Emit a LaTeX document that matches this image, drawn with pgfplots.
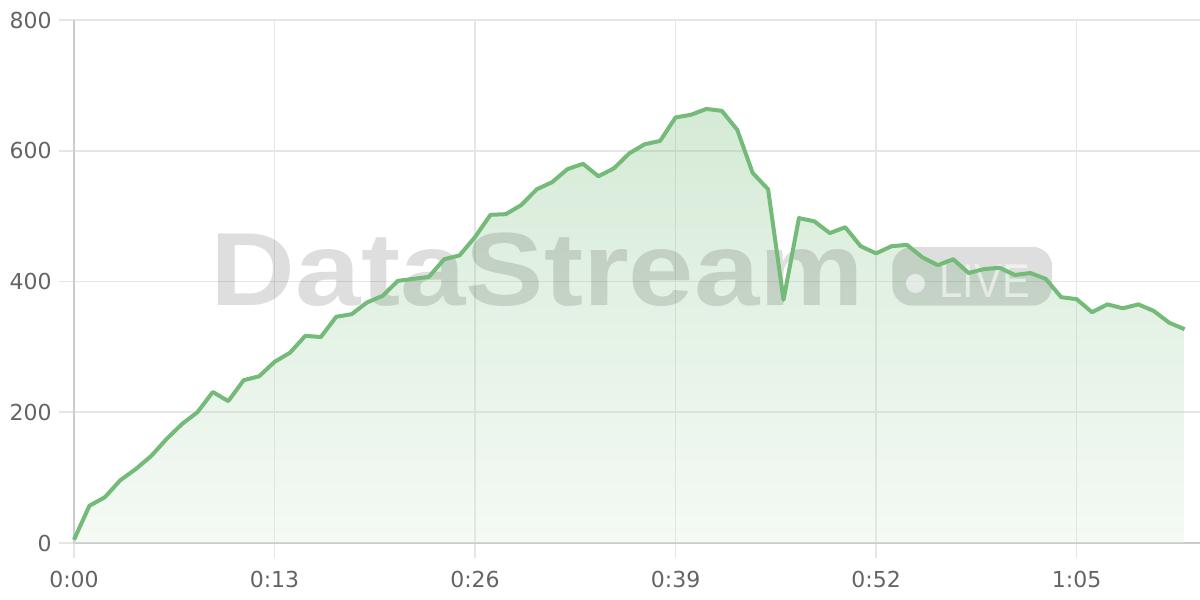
\documentclass[border=0pt]{standalone}
\usepackage{pgfplots}
\pgfplotsset{compat=1.18}
\usepackage{pgfplotstable}
\usepackage{fontspec}
\setmainfont{Liberation Sans}
\newfontfamily\tickfont{DejaVu Sans}
\definecolor{linegreen}{RGB}{116,186,120}
\definecolor{gridgray}{RGB}{230,230,230}
\definecolor{axisgray}{RGB}{204,204,204}
\definecolor{labelgray}{RGB}{100,100,100}
\pgfplotstableread{
t v
0 5
1 57
2 70
3 96
4 113
5 133
6 159
7 182
8 200
9 231
10 217
11 249
12 255
13 277
14 291
15 317
16 315
17 346
18 350
19 368
20 378
21 401
22 404
23 407
24 434
25 440
26 468
27 502
28 503
29 517
30 541
31 552
32 572
33 580
34 561
35 573
36 596
37 610
38 615
39 651
40 655
41 664
42 661
43 632
44 566
45 541
46 372
47 497
48 492
49 474
50 483
51 454
52 443
53 454
54 456
55 437
56 425
57 434
58 413
59 419
60 421
61 410
62 413
63 404
64 376
65 373
66 353
67 365
68 359
69 365
70 355
71 337
72 327
}\datatable
\begin{document}
\begin{tikzpicture}[x=1pt,y=1pt]
\path[use as bounding box] (0,0) rectangle (600,300);
\begin{axis}[
  at={(37pt,28.5pt)}, anchor=south west,
  scale only axis, width=563pt, height=261.5pt,
  xmin=0, xmax=73, ymin=0, ymax=800,
  axis x line*=bottom, axis y line*=left,
  axis line style={draw=axisgray, line width=0.8pt, -},
  xtick={0,13,26,39,52,65},
  xticklabels={0:00,0:13,0:26,0:39,0:52,1:05},
  ytick={0,200,400,600,800},
  grid=major, grid style={draw=gridgray, line width=0.8pt},
  tick align=outside, major tick length=7.5pt,
  tick style={draw=gridgray, line width=0.8pt},
  ticklabel style={font=\tickfont\fontsize{11}{12}\selectfont, text=labelgray},
  /pgf/number format/assume math mode=true,
  xticklabel style={anchor=center, yshift=-10.5pt},
  yticklabel style={anchor=east, xshift=-3.5pt, inner sep=0pt},
  clip=false,
]
\addplot[draw=none, fill opacity=0.3, top color=linegreen, bottom color=linegreen!25] table[x=t,y=v] {\datatable} \closedcycle;
\fill[black, opacity=0.13, rounded corners=10pt] (axis cs:53.05,363) rectangle (axis cs:63.42,453);
\node[anchor=base west, inner sep=0pt, text=black, opacity=0.13, font=\fontsize{52}{52}\bfseries\selectfont, xscale=1.13] at (axis cs:8.85,364) {DataStream};
\fill[white, opacity=0.55] (axis cs:54.55,397) circle[radius=4.75pt];
\node[anchor=base west, inner sep=0pt, text=white, opacity=0.55, font=\fontsize{23.7}{24}\selectfont, xscale=0.88] at (axis cs:56.1,376) {LIVE};
\addplot[draw=linegreen, line width=2pt, line join=round, mark=none] table[x=t,y=v] {\datatable};
\end{axis}
\end{tikzpicture}
\end{document}
